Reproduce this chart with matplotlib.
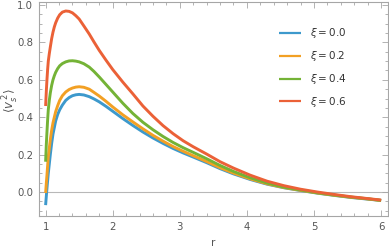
import matplotlib.pyplot as plt
from matplotlib.ticker import MultipleLocator

# values
r = [1.0, 1.01, 1.02, 1.03, 1.04, 1.055, 1.07, 1.09, 1.11, 1.13, 1.15, 1.18, 1.21,
     1.25, 1.3, 1.35, 1.4, 1.45, 1.5, 1.57, 1.65, 1.72, 1.8, 1.9, 2.0, 2.15, 2.3,
     2.45, 2.6, 2.75, 2.9, 3.05, 3.2, 3.4, 3.6, 3.8, 4.05, 4.3, 4.55, 4.8, 5.05,
     5.3, 5.55, 5.8, 6.0]
xi_labels = ["0.0", "0.2", "0.4", "0.6"]
v_xi00 = [-0.07, -0.025, 0.02, 0.06, 0.10, 0.15, 0.20, 0.26, 0.31, 0.345, 0.38, 0.415, 0.44,
          0.465, 0.49, 0.505, 0.515, 0.52, 0.522, 0.519, 0.51, 0.498, 0.482, 0.458, 0.432,
          0.393, 0.356, 0.321, 0.289, 0.26, 0.233, 0.209, 0.187, 0.157, 0.125, 0.097,
          0.067, 0.042, 0.023, 0.008, -0.006, -0.018, -0.029, -0.038, -0.045]
v_xi02 = [-0.005, 0.045, 0.09, 0.14, 0.19, 0.235, 0.28, 0.33, 0.37, 0.40, 0.43, 0.462, 0.49,
          0.515, 0.535, 0.548, 0.556, 0.561, 0.563, 0.56, 0.55, 0.533, 0.513, 0.485, 0.455,
          0.413, 0.375, 0.338, 0.303, 0.272, 0.243, 0.218, 0.194, 0.163, 0.13, 0.101,
          0.07, 0.044, 0.024, 0.009, -0.005, -0.017, -0.028, -0.037, -0.045]
v_xi04 = [0.162, 0.25, 0.32, 0.385, 0.44, 0.49, 0.53, 0.57, 0.60, 0.622, 0.64, 0.66, 0.675,
          0.687, 0.696, 0.701, 0.702, 0.70, 0.696, 0.686, 0.668, 0.645, 0.615, 0.575, 0.535,
          0.475, 0.42, 0.373, 0.333, 0.297, 0.265, 0.237, 0.212, 0.178, 0.142, 0.11,
          0.076, 0.048, 0.026, 0.011, -0.004, -0.016, -0.027, -0.036, -0.045]
v_xi06 = [0.46, 0.535, 0.60, 0.655, 0.70, 0.74, 0.775, 0.82, 0.855, 0.883, 0.905, 0.93, 0.948,
          0.962, 0.968, 0.966, 0.958, 0.943, 0.925, 0.888, 0.845, 0.803, 0.757, 0.705, 0.655,
          0.588, 0.525, 0.46, 0.405, 0.355, 0.312, 0.274, 0.242, 0.203, 0.162, 0.128,
          0.09, 0.058, 0.034, 0.015, 0.0, -0.013, -0.025, -0.035, -0.043]
colors = ["#3D99CC", "#F2A024", "#74B336", "#EB6137"]

plt.rcParams['font.family'] = ['DejaVu Sans']
plt.rcParams['mathtext.fontset'] = 'dejavusans'

fig = plt.figure(figsize=(3.89, 2.52), dpi=100)
ax = fig.add_axes([0.100, 0.143, 0.897, 0.849])

ax.axhline(0, color="#b8b8b8", lw=0.8, zorder=1)

series = [v_xi00, v_xi02, v_xi04, v_xi06]
for vals, lab, c in zip(series, xi_labels, colors):
    ax.plot(r, vals, color=c, lw=2.1, label=r"$\xi$" + "\u2009=\u2009" + lab, zorder=2,
            solid_capstyle="butt", solid_joinstyle="round")

ax.set_xlim(0.9, 6.1)
ax.set_ylim(-0.128, 1.016)
ax.xaxis.set_major_locator(MultipleLocator(1))
ax.xaxis.set_minor_locator(MultipleLocator(0.2))
ax.yaxis.set_major_locator(MultipleLocator(0.2))
ax.yaxis.set_minor_locator(MultipleLocator(0.05))
ax.yaxis.set_major_formatter(plt.FuncFormatter(lambda v, p: "%.1f" % v))

frame_c = "#a6a6a6"
for s in ax.spines.values():
    s.set_color(frame_c)
    s.set_linewidth(0.8)
ax.tick_params(which="both", direction="in", top=True, right=True,
               color=frame_c, labelcolor="#555555", labelsize=7.3, width=0.6)
ax.tick_params(which="major", length=4, pad=4)
ax.tick_params(which="minor", length=2)

fig.text(0.028, 0.60, r"$\langle v_s^{\,2}\rangle$", rotation=90, ha="center",
         va="center", color="#555555", fontsize=8.5)
fig.text(0.548, 0.036, "r", ha="center", va="center", color="#555555", fontsize=7.5)

leg = ax.legend(loc="upper left", bbox_to_anchor=(0.718, 0.895),
                bbox_transform=fig.transFigure, frameon=False, fontsize=7.5,
                handlelength=2.1, handletextpad=0.8, labelspacing=0.85,
                borderaxespad=0, borderpad=0)
for line in leg.get_lines():
    line.set_linewidth(1.6)
for t in leg.get_texts():
    t.set_color("#333333")

plt.savefig("out.png")
